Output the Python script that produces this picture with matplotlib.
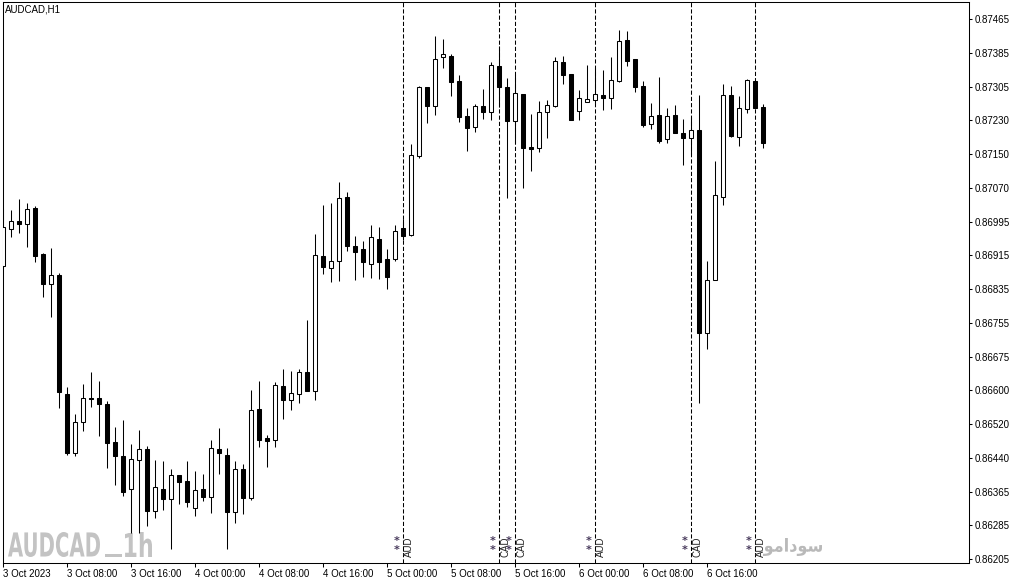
import matplotlib
matplotlib.use("Agg")
import matplotlib.pyplot as plt
import numpy as np
from matplotlib.textpath import TextPath
from matplotlib.patches import PathPatch
from matplotlib.font_manager import FontProperties
from matplotlib.transforms import Affine2D, blended_transform_factory, ScaledTranslation

W, H = 1015, 584

# AUDCAD H1 candles, 3 Oct 2023 00:00 .. 6 Oct 2023 23:00
opens = [0.86889, 0.86975, 0.86994, 0.86987, 0.87024, 0.86917, 0.86847, 0.86868,
         0.86590, 0.86452, 0.86525, 0.86581, 0.86581, 0.86567, 0.86478, 0.86445,
         0.86368, 0.86436, 0.86462, 0.86317, 0.86368, 0.86345, 0.86401, 0.86387,
         0.86324, 0.86368, 0.86350, 0.86462, 0.86448, 0.86315, 0.86415, 0.86347,
         0.86555, 0.86487, 0.86483, 0.86609, 0.86576, 0.86590, 0.86641, 0.86597,
         0.86912, 0.86884, 0.86900, 0.87050, 0.86935, 0.86928, 0.86893, 0.86952,
         0.86905, 0.86905, 0.86977, 0.86961, 0.87145, 0.87306, 0.87262, 0.87376,
         0.87379, 0.87320, 0.87239, 0.87213, 0.87262, 0.87248, 0.87355, 0.87306,
         0.87227, 0.87290, 0.87166, 0.87164, 0.87248, 0.87262, 0.87365, 0.87337,
         0.87250, 0.87271, 0.87276, 0.87288, 0.87281, 0.87320, 0.87416, 0.87372,
         0.87309, 0.87220, 0.87241, 0.87185, 0.87241, 0.87199, 0.87187, 0.87206,
         0.86732, 0.86856, 0.87050, 0.87288, 0.87190, 0.87255, 0.87320, 0.87260]
highs = [0.87022, 0.87019, 0.87045, 0.87036, 0.87029, 0.86919, 0.86931, 0.86872,
         0.86606, 0.86543, 0.86613, 0.86641, 0.86620, 0.86574, 0.86513, 0.86529,
         0.86473, 0.86506, 0.86469, 0.86436, 0.86434, 0.86415, 0.86401, 0.86434,
         0.86410, 0.86403, 0.86483, 0.86511, 0.86464, 0.86434, 0.86427, 0.86599,
         0.86620, 0.86494, 0.86618, 0.86648, 0.86644, 0.86648, 0.86763, 0.86963,
         0.87031, 0.87036, 0.87085, 0.87061, 0.86959, 0.86947, 0.86984, 0.86980,
         0.86928, 0.86984, 0.86998, 0.87173, 0.87309, 0.87306, 0.87425, 0.87418,
         0.87383, 0.87334, 0.87257, 0.87267, 0.87302, 0.87365, 0.87402, 0.87327,
         0.87334, 0.87290, 0.87243, 0.87274, 0.87276, 0.87376, 0.87379, 0.87337,
         0.87299, 0.87358, 0.87351, 0.87346, 0.87376, 0.87439, 0.87437, 0.87372,
         0.87320, 0.87269, 0.87330, 0.87257, 0.87264, 0.87232, 0.87236, 0.87288,
         0.86900, 0.87134, 0.87313, 0.87309, 0.87285, 0.87325, 0.87320, 0.87267]
lows = [0.86885, 0.86956, 0.86966, 0.86933, 0.86898, 0.86816, 0.86770, 0.86557,
        0.86448, 0.86445, 0.86504, 0.86560, 0.86492, 0.86417, 0.86378, 0.86352,
        0.86266, 0.86266, 0.86282, 0.86301, 0.86319, 0.86228, 0.86333, 0.86326,
        0.86305, 0.86340, 0.86312, 0.86403, 0.86228, 0.86289, 0.86310, 0.86343,
        0.86466, 0.86420, 0.86466, 0.86532, 0.86553, 0.86569, 0.86597, 0.86576,
        0.86870, 0.86851, 0.86854, 0.86924, 0.86856, 0.86863, 0.86861, 0.86858,
        0.86835, 0.86900, 0.86949, 0.86959, 0.87141, 0.87222, 0.87241, 0.87351,
        0.87285, 0.87225, 0.87157, 0.87201, 0.87232, 0.87229, 0.87260, 0.87047,
        0.87176, 0.87071, 0.87110, 0.87155, 0.87187, 0.87260, 0.87313, 0.87229,
        0.87229, 0.87271, 0.87269, 0.87253, 0.87255, 0.87318, 0.87355, 0.87295,
        0.87213, 0.87208, 0.87176, 0.87176, 0.87199, 0.87124, 0.87148, 0.86569,
        0.86695, 0.86856, 0.87031, 0.87190, 0.87169, 0.87246, 0.87257, 0.87164]
closes = [0.86980, 0.86994, 0.86987, 0.87022, 0.86912, 0.86847, 0.86868, 0.86595,
          0.86452, 0.86525, 0.86581, 0.86578, 0.86567, 0.86476, 0.86445, 0.86361,
          0.86438, 0.86462, 0.86317, 0.86373, 0.86345, 0.86401, 0.86385, 0.86338,
          0.86366, 0.86350, 0.86464, 0.86452, 0.86315, 0.86415, 0.86347, 0.86553,
          0.86483, 0.86480, 0.86611, 0.86576, 0.86592, 0.86641, 0.86597, 0.86914,
          0.86886, 0.86900, 0.87047, 0.86935, 0.86921, 0.86898, 0.86956, 0.86898,
          0.86863, 0.86970, 0.86959, 0.87148, 0.87306, 0.87262, 0.87372, 0.87383,
          0.87318, 0.87236, 0.87211, 0.87262, 0.87248, 0.87358, 0.87306, 0.87227,
          0.87292, 0.87164, 0.87162, 0.87248, 0.87264, 0.87367, 0.87334, 0.87229,
          0.87281, 0.87278, 0.87290, 0.87281, 0.87323, 0.87414, 0.87367, 0.87306,
          0.87218, 0.87239, 0.87180, 0.87239, 0.87199, 0.87187, 0.87206, 0.86732,
          0.86856, 0.87054, 0.87288, 0.87192, 0.87257, 0.87323, 0.87257, 0.87176]

time_ticks = [0, 8, 16, 24, 32, 40, 48, 56, 64, 72, 80, 88]
time_labels = ["3 Oct 2023", "3 Oct 08:00", "3 Oct 16:00", "4 Oct 00:00",
               "4 Oct 08:00", "4 Oct 16:00", "5 Oct 00:00", "5 Oct 08:00",
               "5 Oct 16:00", "6 Oct 00:00", "6 Oct 08:00", "6 Oct 16:00"]
price_labels = ["0.87465", "0.87385", "0.87305", "0.87230", "0.87150", "0.87070",
                "0.86995", "0.86915", "0.86835", "0.86755", "0.86675", "0.86600",
                "0.86520", "0.86440", "0.86365", "0.86285", "0.86205"]
price_ticks = np.linspace(0.87465, 0.86205, len(price_labels))

event_bars = [50, 62, 64, 74, 86, 94]
event_ccy = ["AUD", "CAD", "CAD", "AUD", "CAD", "AUD"]

FONT = "Liberation Sans"

fig = plt.figure(figsize=(W / 100, H / 100), dpi=100)
fig.patch.set_facecolor("white")
ax = fig.add_axes([2.5 / W, 21 / H, 966 / W, 561 / H])

o = np.array(opens); c = np.array(closes)
hi = np.array(highs); lo = np.array(lows)
idx = np.arange(len(o))
bull = c >= o

ax.vlines(idx, lo, hi, color="black", lw=0.75, zorder=2)
ax.bar(idx[bull], (c - o)[bull], bottom=o[bull], width=0.5,
       facecolor="white", edgecolor="black", lw=0.75, zorder=3)
ax.bar(idx[~bull], (o - c)[~bull], bottom=c[~bull], width=0.5,
       facecolor="black", edgecolor="black", lw=0.75, zorder=3)

ax.set_xlim(-0.0625, -0.0625 + 966 / 8)
ax.set_ylim(0.861957, 0.875047)

# event lines
for b in event_bars:
    ax.axvline(b, color="black", lw=0.75, dashes=(4, 2), zorder=1)
tr = blended_transform_factory(ax.transData, fig.transFigure)
for b, ccy in zip(event_bars, event_ccy):
    for yy in (538, 547):
        ax.text(b, 1 - (yy + 3) / H, "*", transform=tr + ScaledTranslation(-0.06, 0, fig.dpi_scale_trans),
                ha="center", va="center", fontsize=8, fontweight="bold", color="#46385a",
                family="DejaVu Sans", clip_on=False)
    ax.text(b, 1 - 547 / H, ccy, transform=tr + ScaledTranslation(0.06, 0, fig.dpi_scale_trans),
            rotation=90, ha="center", va="center", fontsize=7, color="#222222", family=FONT, clip_on=False)

ax.yaxis.tick_right()
ax.set_yticks(price_ticks)
ax.set_yticklabels(price_labels, family=FONT, fontsize=7)
ax.tick_params(axis="y", direction="out", length=2.5, width=0.75, pad=2)
ax.set_xticks(time_ticks)
ax.set_xticklabels(time_labels, family=FONT, fontsize=7, ha="left")
ax.tick_params(axis="x", direction="out", length=3, width=0.75, pad=1)
for s in ax.spines.values():
    s.set_linewidth(0.75)
    s.set_color("black")

fig.text(5 / W, 1 - 10 / H, "AUDCAD,H1", va="center", ha="left", fontsize=7, family=FONT)

px = Affine2D().scale(1 / W, 1 / H) + fig.transFigure


def fit_text(s, box, color, family="DejaVu Sans"):
    x0, y0, x1, y1 = box
    tp = TextPath((0, 0), s, size=100, prop=FontProperties(family=family, weight="bold"))
    e = tp.get_extents()
    aff = Affine2D().translate(-e.x0, -e.y0).scale((x1 - x0) / e.width, (y1 - y0) / e.height)
    aff = aff.translate(x0, H - y1)
    ax.add_artist(PathPatch(tp.transformed(aff), transform=px, facecolor=color,
                            edgecolor="none", zorder=0.5, clip_on=False))


fit_text("AUDCAD", (8, 532, 100, 557), "#c3c3c3")
fit_text("_", (105, 554, 122, 557), "#c3c3c3")
fit_text("1h", (125, 532, 152, 557), "#c3c3c3")
# shaped Arabic letters in visual order
fit_text("\uFEEE\uFEE3\uFE8D\uFEA9\uFEEE\uFEB3", (763, 538, 822, 556), "#b9b9b9")

fig.savefig("out.png", dpi=100, facecolor="white")
